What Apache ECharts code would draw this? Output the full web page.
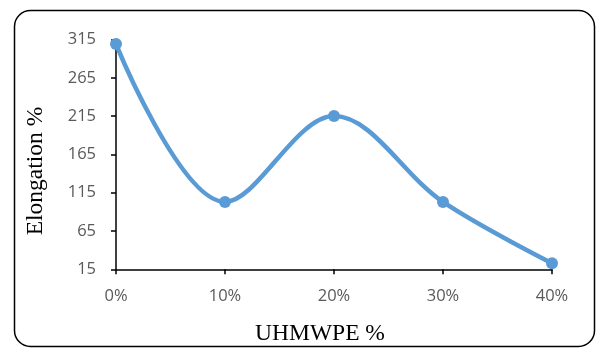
<!DOCTYPE html>
<html>
<head>
<meta charset="utf-8">
<script src="https://cdn.jsdelivr.net/npm/echarts@6/dist/echarts.min.js"></script>
<style>
  html, body { margin: 0; padding: 0; background: #fff; }
  #chart { width: 596px; height: 350px; }
</style>
</head>
<body>
<div id="chart"></div>
<script>
// UHMWPE content vs. elongation
const categories = ['0%', '10%', '20%', '30%', '40%'];
const elongation = [309, 103, 215, 103, 23];
const yTicks = { min: 15, max: 315, interval: 50 };
const xTitle = 'UHMWPE %';
const yTitle = 'Elongation %';

const titleStyle = { fontFamily: 'Liberation Serif', fontSize: 23.5, fill: '#000' };

const chart = echarts.init(document.getElementById('chart'));
chart.setOption({
  animation: false,
  backgroundColor: '#fff',
  graphic: [
    {
      type: 'rect',
      shape: { x: 14.5, y: 10.5, width: 580, height: 336, r: 16 },
      style: { fill: 'none', stroke: '#000', lineWidth: 1.5 },
      z: 0
    },
    {
      type: 'text',
      x: 320, y: 334,
      style: Object.assign({ text: xTitle, align: 'center', verticalAlign: 'middle' }, titleStyle)
    },
    {
      type: 'text',
      x: 36, y: 171,
      rotation: Math.PI / 2,
      style: Object.assign({ text: yTitle, align: 'center', verticalAlign: 'middle' }, titleStyle)
    }
  ],
  grid: { left: 116, right: 44, top: 39.5, bottom: 80.7, containLabel: false, outerBoundsMode: 'none' },
  xAxis: {
    type: 'category',
    data: categories,
    boundaryGap: false,
    axisLine: { lineStyle: { color: '#000', width: 1.5 } },
    axisTick: { show: true, alignWithLabel: true, length: 5, lineStyle: { color: '#000', width: 1.5 } },
    axisLabel: { color: '#595959', fontFamily: 'Open Sans', fontSize: 16.5, margin: 18 },
    splitLine: { show: false }
  },
  yAxis: {
    type: 'value',
    min: yTicks.min,
    max: yTicks.max,
    interval: yTicks.interval,
    axisLine: { show: true, lineStyle: { color: '#000', width: 1.5 } },
    axisTick: { show: true, length: 5, lineStyle: { color: '#000', width: 1.5 } },
    axisLabel: { color: '#595959', fontFamily: 'Open Sans', fontSize: 16.5, margin: 20 },
    splitLine: { show: false }
  },
  series: [{
    type: 'line',
    data: elongation,
    smooth: 0.35,
    symbol: 'circle',
    symbolSize: 12,
    lineStyle: { color: '#5B9BD5', width: 4.5 },
    itemStyle: { color: '#5B9BD5' }
  }]
});
</script>
</body>
</html>
